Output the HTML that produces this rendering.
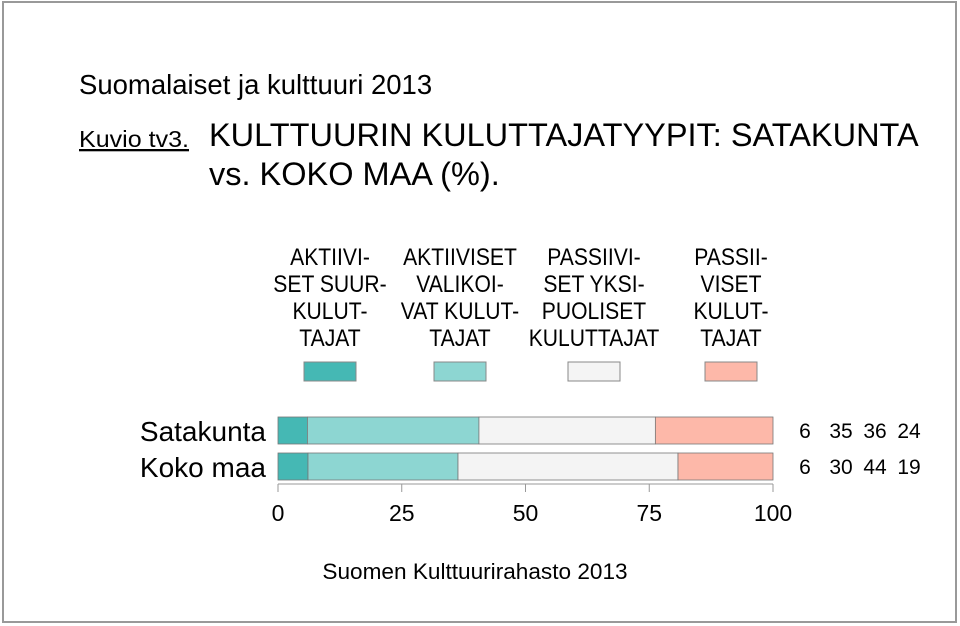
<!DOCTYPE html>
<html><head><meta charset="utf-8"><style>
body{margin:0;background:#fff;}
svg{display:block;font-family:"Liberation Sans",sans-serif;}
</style></head><body>
<svg id="chart" width="960" height="626" xmlns="http://www.w3.org/2000/svg">
<rect x="3" y="2" width="953" height="620" fill="#fff" stroke="#999" stroke-width="2"/>
<text x="79" y="94" font-size="27.5" fill="#000">Suomalaiset ja kulttuuri 2013</text>
<text x="79" y="147" font-size="23" fill="#000" text-decoration="underline" textLength="110" lengthAdjust="spacingAndGlyphs">Kuvio tv3.</text>
<text font-size="32.5" fill="#000"><tspan x="209" y="146">KULTTUURIN KULUTTAJATYYPIT: SATAKUNTA</tspan><tspan x="209" y="185">vs. KOKO MAA (%).</tspan></text>
<g id="legend"></g>
<g id="bars"></g>
<g id="axis"></g>
<text x="475" y="579" font-size="22.6" text-anchor="middle" fill="#000">Suomen Kulttuurirahasto 2013</text>
</svg>
<script>
const categories = ["Satakunta", "Koko maa"];
const seriesNames = [["AKTIIVI-","SET SUUR-","KULUT-","TAJAT"],["AKTIIVISET","VALIKOI-","VAT KULUT-","TAJAT"],["PASSIIVI-","SET YKSI-","PUOLISET","KULUTTAJAT"],["PASSII-","VISET","KULUT-","TAJAT"]];
const seriesColors = ["#45b8b4","#8dd6d2","#f4f4f4","#fdb8a9"];
const satakuntaValues = [6, 35, 36, 24];
const kokoMaaValues = [6, 30, 44, 19];
const tickValues = [0, 25, 50, 75, 100];
const values = [satakuntaValues, kokoMaaValues];
const NS = "http://www.w3.org/2000/svg";
const x0 = 278, x1 = 773;
function xScale(v){ return x0 + (x1 - x0) * v / 100; }
const rowTop = [417, 453], barH = 27;
function mk(tag, attrs, parent){ const e = document.createElementNS(NS, tag); for (const k in attrs) e.setAttribute(k, attrs[k]); parent.appendChild(e); return e; }
const legend = document.getElementById('legend');
const legCenters = [330, 460, 594, 731];
seriesNames.forEach((lines, i) => {
  const t = mk('text', {x: legCenters[i], y: 0, 'font-size': 24, 'text-anchor': 'middle', transform: `translate(${legCenters[i]},0) scale(0.88,1) translate(${-legCenters[i]},0)`}, legend);
  
  
  lines.forEach((l, j) => { const ts = mk('tspan', {x: legCenters[i], y: 265 + j * 27}, t); ts.textContent = l; });
  const r = mk('rect', {x: legCenters[i] - 26, y: 362, width: 52, height: 19, fill: seriesColors[i], stroke: '#888', 'stroke-width': 1}, legend);
  
  
});
const bars = document.getElementById('bars');
const valueX = [805, 841, 875, 909];
values.forEach((vals, r) => {
  let cum = 0;
  const lab = mk('text', {x: 266, y: rowTop[r] + 24, 'font-size': 28, 'text-anchor': 'end'}, bars);
  
  
  lab.textContent = categories[r];
  const total = vals.reduce((a, b) => a + b, 0);
  vals.forEach((v, i) => {
    const a = cum / total * 100, b = (cum + v) / total * 100;
    const rect = mk('rect', {x: xScale(a), y: rowTop[r], width: xScale(b) - xScale(a), height: barH, fill: seriesColors[i], stroke: '#777', 'stroke-width': 0.8}, bars);
    
    
    cum += v;
    const vt = mk('text', {x: valueX[i], y: rowTop[r] + 21, 'font-size': 21, 'text-anchor': 'middle'}, bars);
    
    
    vt.textContent = v;
  });
});
const axis = document.getElementById('axis');
mk('line', {x1: x0, x2: x1, y1: 484, y2: 484, stroke: '#999', 'stroke-width': 1}, axis);
tickValues.forEach(t => {
  const tk = mk('line', {x1: xScale(t), x2: xScale(t), y1: 484, y2: 492, stroke: '#999', 'stroke-width': 1}, axis);
  
  
  const tl = mk('text', {x: xScale(t), y: 521, 'font-size': 23, 'text-anchor': 'middle'}, axis);
  
  
  tl.textContent = t;
});
</script>
</body></html>
